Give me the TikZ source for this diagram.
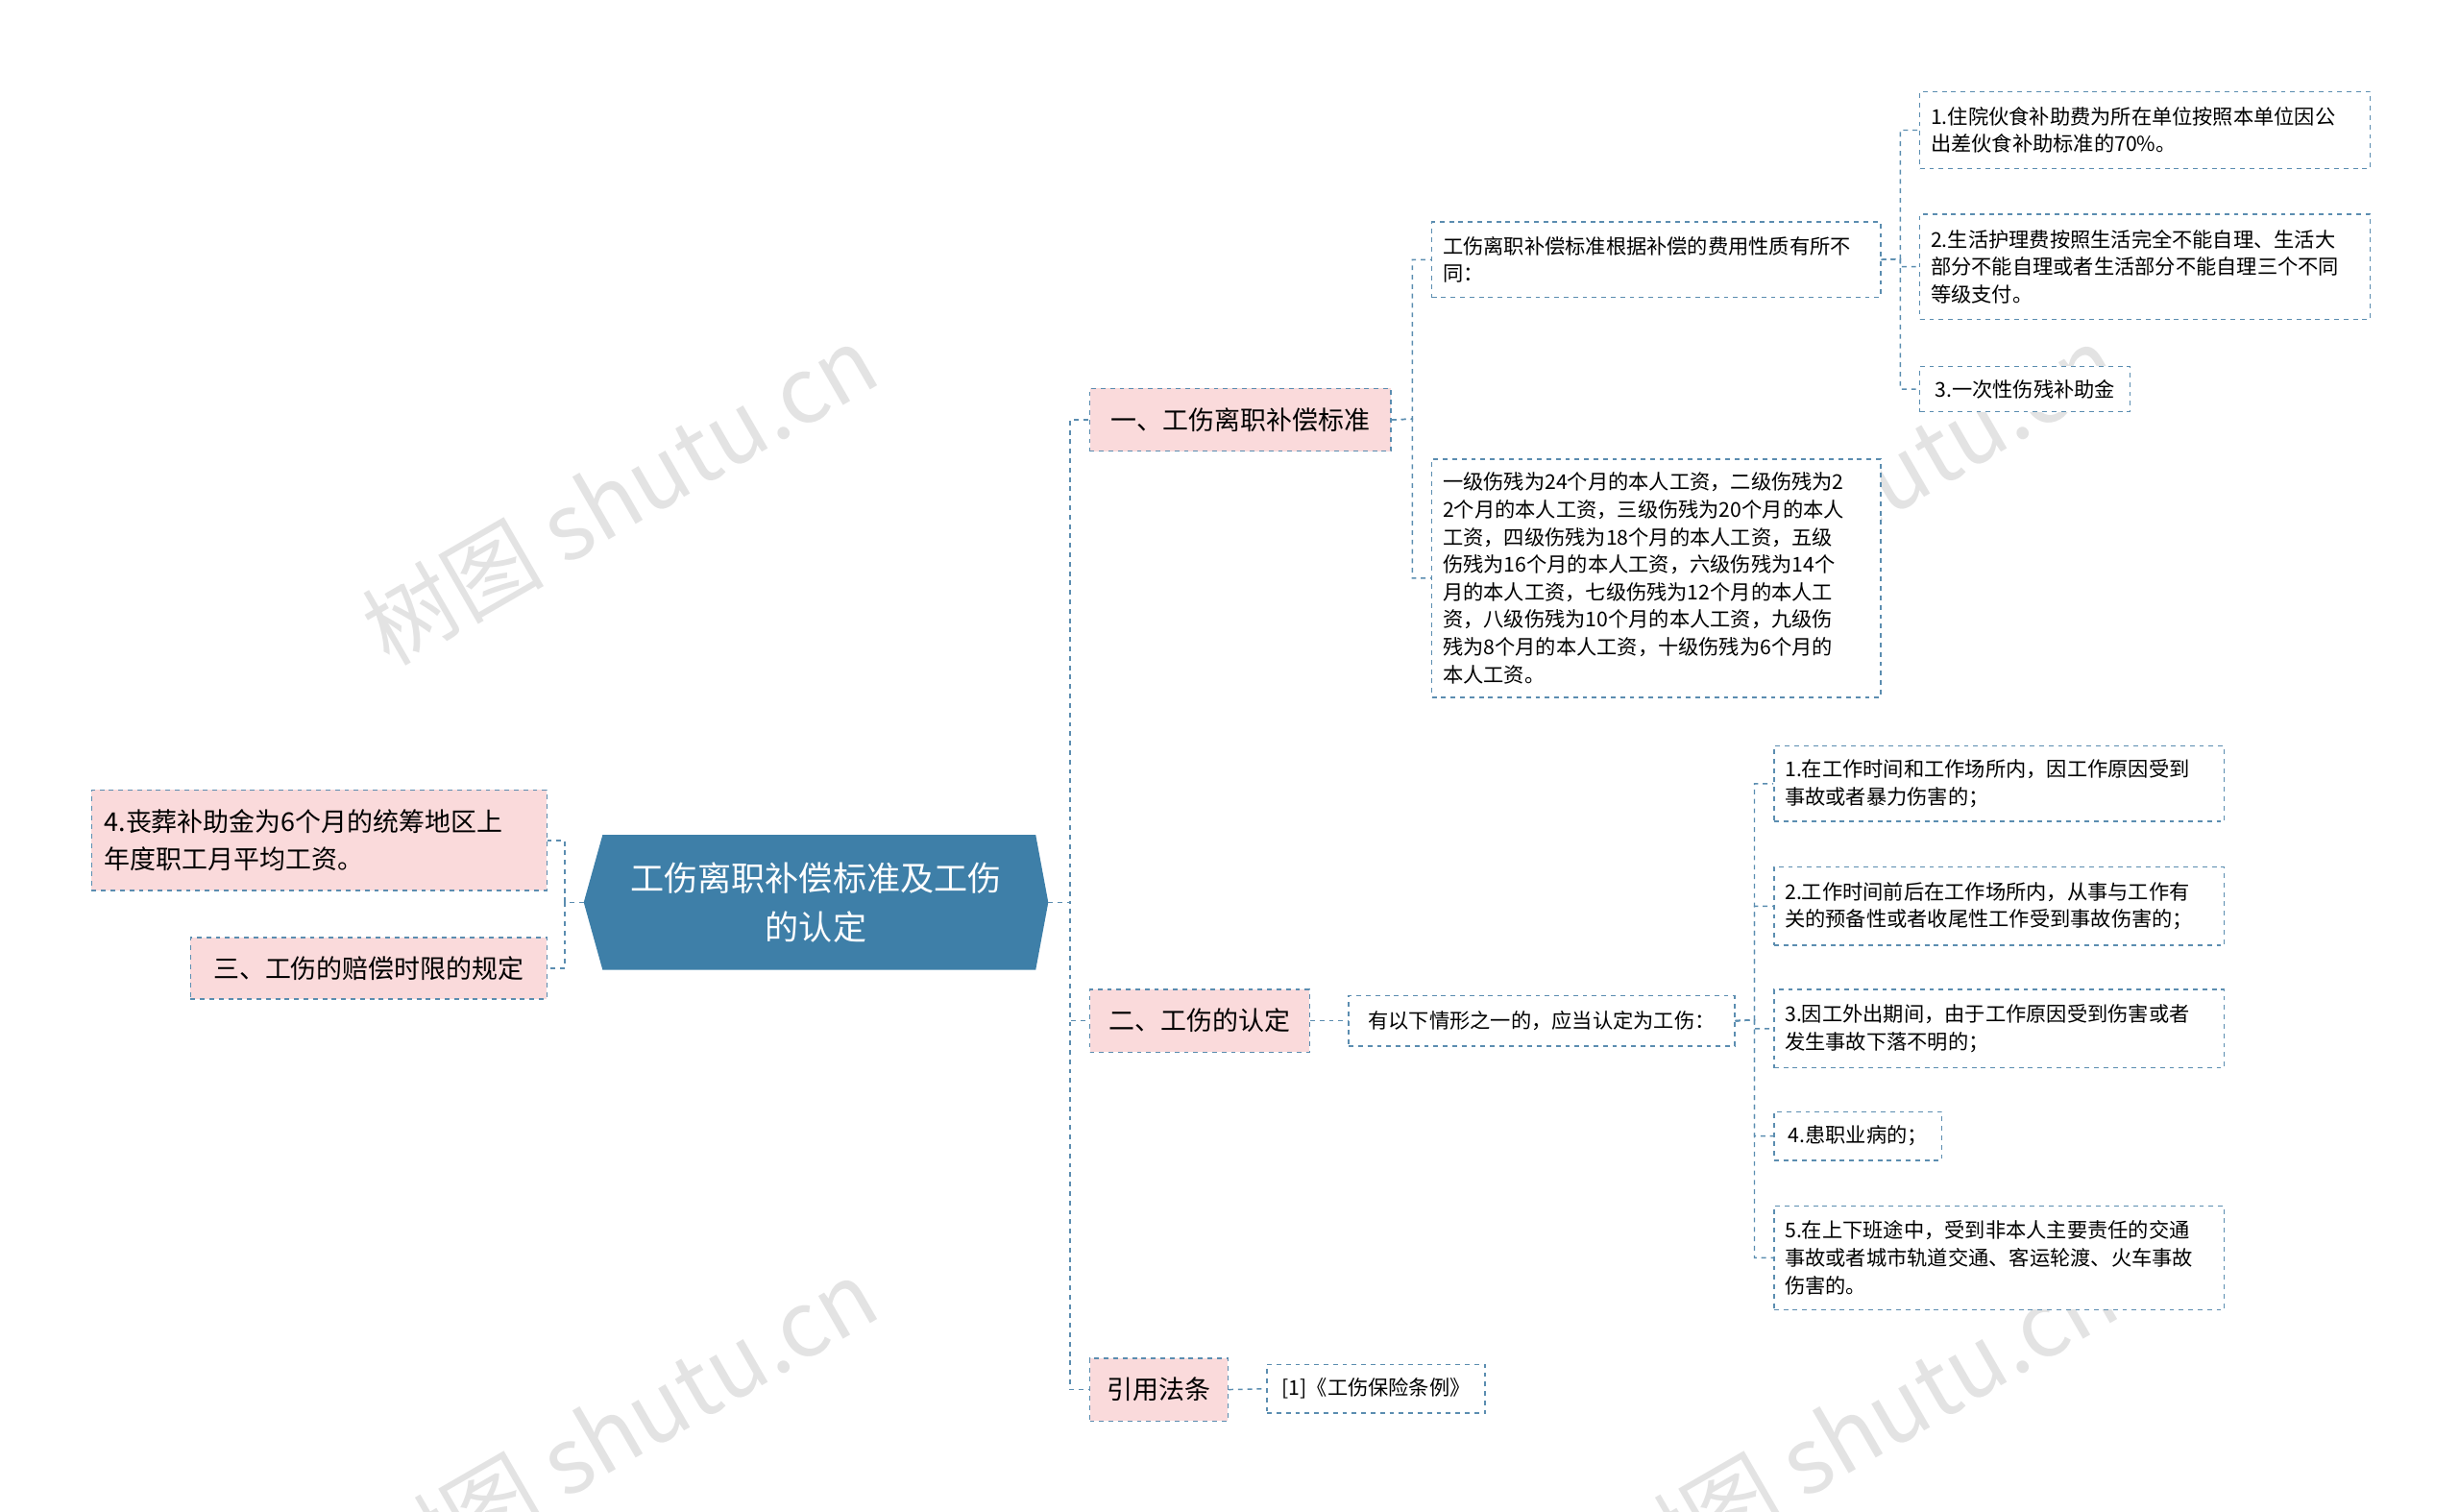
\documentclass[tikz,border=0pt]{standalone}
\usepackage{fontspec}
\setmainfont{Noto Sans CJK SC}
\usetikzlibrary{shapes.geometric}
\definecolor{lb}{HTML}{3E7FA8}
\definecolor{pk}{HTML}{FADADB}
\definecolor{ln}{HTML}{5B8DB0}
\tikzset{
 base/.style={draw=ln,dashed,line width=0.9pt,inner sep=0pt,align=left,anchor=north west},
 pbox/.style={base,fill=pk,font=\fontsize{16.5}{24}\selectfont,inner xsep=8pt},
 wbox/.style={base,fill=white,font=\fontsize{13}{17.5}\selectfont,inner xsep=7pt},
 con/.style={draw=ln,dashed,line width=0.9pt},
 wm/.style={text=gray!22,font=\fontsize{58}{58}\selectfont,rotate=30}
}
\begin{document}
\begin{tikzpicture}[x=1pt,y=-1pt]
\useasboundingbox (0,0) rectangle (1567,963);
\node[wm] at (395,315) {树图 shutu.cn};
\node[wm] at (1185,315) {树图 shutu.cn};
\node[wm] at (395,910) {树图 shutu.cn};
\node[wm] at (1185,910) {树图 shutu.cn};
% center
\fill[lb] (384,532) -- (660,532) -- (668,575) -- (660,618) -- (384,618) -- (372,575) -- cycle;
\node[text=white,align=center,font=\fontsize{21.5}{31}\selectfont] (c) at (520,575) {工伤离职补偿标准及工伤\\的认定};
\coordinate (cl) at (372,575); \coordinate (cr) at (668,575);
% left
\node[pbox,minimum width=290pt,minimum height=64pt,text width=274pt] (l1) at (58,503) {4.丧葬补助金为6个月的统筹地区上\\年度职工月平均工资。};
\node[pbox,minimum width=227pt,minimum height=39pt] (l2) at (121,597) {三、工伤的赔偿时限的规定};
% branches
\node[pbox,minimum width=192pt,minimum height=40pt] (b1) at (694,247) {一、工伤离职补偿标准};
\node[pbox,minimum width=140pt,minimum height=40pt] (b2) at (694,630) {二、工伤的认定};
\node[pbox,minimum width=88pt,minimum height=40pt] (b3) at (694,865) {引用法条};
% b1 children
\node[wbox,minimum width=286pt,minimum height=48pt,text width=272pt] (a1) at (912,141) {工伤离职补偿标准根据补偿的费用性质有所不\\同：};
\node[wbox,minimum width=286pt,minimum height=152pt,text width=272pt] (a2) at (912,292) {一级伤残为24个月的本人工资，二级伤残为2\\2个月的本人工资，三级伤残为20个月的本人\\工资，四级伤残为18个月的本人工资，五级\\伤残为16个月的本人工资，六级伤残为14个\\月的本人工资，七级伤残为12个月的本人工\\资，八级伤残为10个月的本人工资，九级伤\\残为8个月的本人工资，十级伤残为6个月的\\本人工资。};
\node[wbox,minimum width=287pt,minimum height=49pt,text width=273pt] (g1) at (1223,58) {1.住院伙食补助费为所在单位按照本单位因公\\出差伙食补助标准的70\%。};
\node[wbox,minimum width=287pt,minimum height=67pt,text width=273pt] (g2) at (1223,136) {2.生活护理费按照生活完全不能自理、生活大\\部分不能自理或者生活部分不能自理三个不同\\等级支付。};
\node[wbox,minimum width=134pt,minimum height=29pt] (g3) at (1223,233) {3.一次性伤残补助金};
% b2 children
\node[wbox,minimum width=246pt,minimum height=32pt] (d) at (859,634) {有以下情形之一的，应当认定为工伤：};
\node[wbox,minimum width=287pt,minimum height=48pt,text width=273pt] (h1) at (1130,475) {1.在工作时间和工作场所内，因工作原因受到\\事故或者暴力伤害的；};
\node[wbox,minimum width=287pt,minimum height=50pt,text width=273pt] (h2) at (1130,552) {2.工作时间前后在工作场所内，从事与工作有\\关的预备性或者收尾性工作受到事故伤害的；};
\node[wbox,minimum width=287pt,minimum height=50pt,text width=273pt] (h3) at (1130,630) {3.因工外出期间，由于工作原因受到伤害或者\\发生事故下落不明的；};
\node[wbox,minimum width=107pt,minimum height=31pt] (h4) at (1130,708) {4.患职业病的；};
\node[wbox,minimum width=287pt,minimum height=66pt,text width=273pt] (h5) at (1130,768) {5.在上下班途中，受到非本人主要责任的交通\\事故或者城市轨道交通、客运轮渡、火车事故\\伤害的。};
% b3 child
\node[wbox,minimum width=139pt,minimum height=31pt] (e) at (807,869) {[1]《工伤保险条例》};
% connectors
\foreach \t in {b1,b2,b3} \draw[con] (cr) -- (682,575) |- (\t.west);
\foreach \t in {l1,l2} \draw[con] (cl) -- (360,575) |- (\t.east);
\foreach \t in {a1,a2} \draw[con] (b1.east) -- (900,267) |- (\t.west);
\foreach \t in {g1,g2,g3} \draw[con] (a1.east) -- (1211,165) |- (\t.west);
\draw[con] (b2.east) -- (d.west);
\foreach \t in {h1,h2,h3,h4,h5} \draw[con] (d.east) -- (1118,650) |- (\t.west);
\draw[con] (b3.east) -- (e.west);
\end{tikzpicture}
\end{document}
